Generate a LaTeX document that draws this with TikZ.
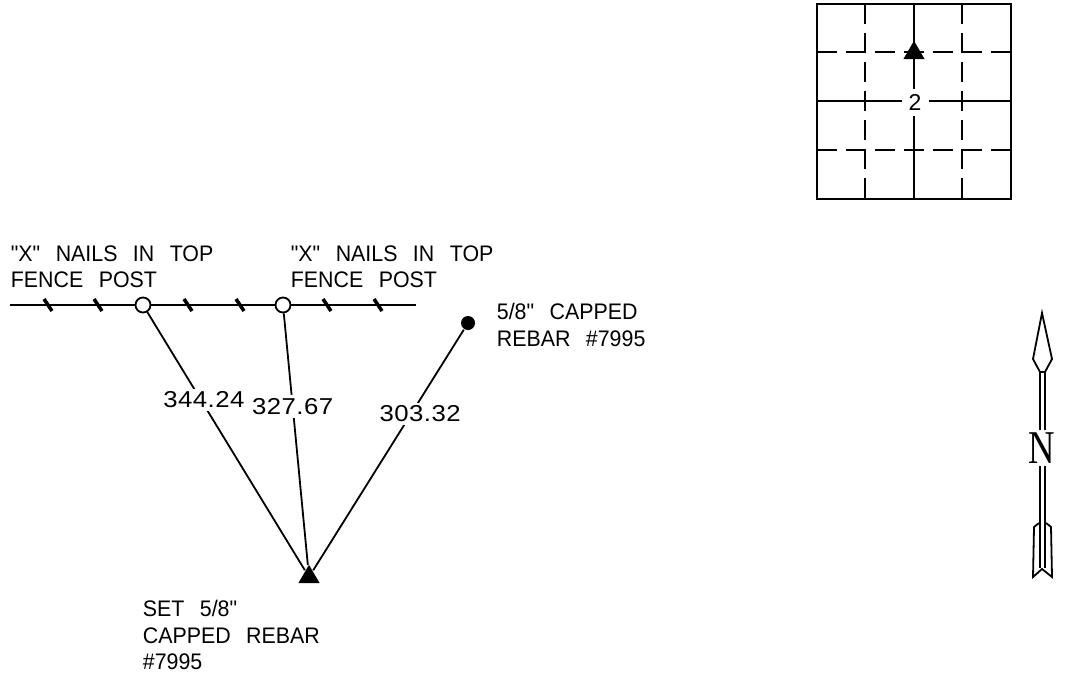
\documentclass[tikz,border=0pt]{standalone}
\usepackage{fontspec}
\usetikzlibrary{shapes.geometric}
\setmainfont{Liberation Sans}
\newfontfamily\capsfont[FakeStretch=0.95,WordSpace=2.6]{Liberation Sans}
\newfontfamily\numfont[FakeStretch=1.12,LetterSpace=2]{Liberation Sans}
\newfontfamily\northfont[FakeStretch=0.78]{Liberation Serif}
\tikzstyle{note}=[
    align = left,
    anchor = west,
    inner sep = 0pt,
    font = \capsfont\fontsize{22.5}{26.5}\selectfont
]
\tikzstyle{dist}=[
    fill = white,
    inner sep = 3pt,
    font = \numfont\fontsize{23}{27}\selectfont
]
\tikzstyle{post}=[
    draw,
    circle,
    fill = white,
    inner sep = 0pt,
    minimum size = 15pt
]
\tikzstyle{set point}=[
    regular polygon,
    regular polygon sides = 3,
    fill = black,
    inner sep = 0pt,
    minimum size = 24.5pt
]
\tikzstyle{tick}=[line width = 3.6pt]
\tikzstyle{grid dash}=[dash pattern = on 20pt off 9pt]

\begin{document}
\begin{tikzpicture}[x=1pt, y=-1pt, line width=1.8pt]
    \useasboundingbox (0,0) rectangle (1070,680);

    % section grid
    \draw[line width=2pt] (817,4) rectangle (1011,199);
    \draw[grid dash] (817,52) -- (1011,52);
    \draw[grid dash] (817,150) -- (1011,150);
    \draw[grid dash] (865,4) -- (865,199);
    \draw[grid dash] (962,4) -- (962,199);
    \draw (817,101) -- (1011,101);
    \draw (914,4) -- (914,199);
    \node[fill=white, inner sep=0pt, minimum size=27pt, font=\fontsize{23}{27}\selectfont] (sec) at (915,102) {2};
    \node[set point] (corner) at (914,53) {};

    % fence
    \coordinate (fenceW) at (10,305);
    \coordinate (fenceE) at (416,305);
    \draw (fenceW) -- (fenceE);
    \foreach \x in {48,98,188,240,327,378}
        \draw[tick] (\x-4,299) -- (\x+4,311);
    \node[post] (post1) at (143,305) {};
    \node[post] (post2) at (283,305) {};
    \node[set point] (set) at (309,577) {};
    \node[circle, fill=black, inner sep=0pt, minimum size=14pt] (rebar) at (468,323) {};

    \draw (post1) -- (set) node [dist, pos=0.34, xshift=3pt] {344.24};
    \draw (post2) -- (set) node [dist, pos=0.37] {327.67};
    \draw (rebar) -- (set) node [dist, pos=0.35, xshift=9pt] {303.32};

    \node[note] (nail1) at (10,267) {"X" NAILS IN TOP\\FENCE POST};
    \node[note] (nail2) at (290,267) {"X" NAILS IN TOP\\FENCE POST};
    \node[note] (rebarnote) at (496,325) {5/8" CAPPED\\REBAR \#7995};
    \node[note] (setnote) at (142,635) {SET 5/8"\\CAPPED REBAR\\\#7995};

    % north arrow
    \node[inner sep=0pt, font=\northfont\fontsize{47}{47}\selectfont] (north) at (1042,448) {N};
    \coordinate (headL) at (1040,372);
    \coordinate (headR) at (1045,372);
    \coordinate (tailL) at (1040,568);
    \coordinate (tailR) at (1045,568);
    \draw (1042,313) -- (1052,359) -- (1045,372) -- (1040,372) -- (1033,359) -- cycle;
    \draw (headL) -- (1040,430) (headR) -- (1045,430);
    \draw (1040,466) -- (tailL) (1045,466) -- (tailR);
    \draw (1039,523) -- (1034,527) -- (1033,577) -- (1042,569) -- (1052,577) -- (1051,527) -- (1046,523);
\end{tikzpicture}
\end{document}
